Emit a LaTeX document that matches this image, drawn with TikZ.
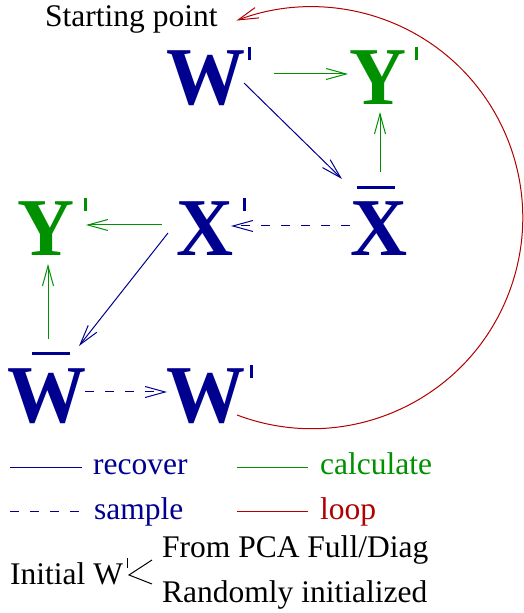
\documentclass[tikz,border=0pt]{standalone}
\usepackage{fontspec}
\setmainfont{Liberation Serif}
\usetikzlibrary{arrows.meta}
\definecolor{fblue}{HTML}{000090}
\definecolor{fgreen}{HTML}{009000}
\definecolor{fred}{HTML}{B00000}
\newcommand\prm[1]{\smash{\rlap{\hspace{#1}\raisebox{45pt}{\rule{3pt}{12.5pt}}}}}
\newcommand\tall[1]{\scalebox{1}[1.04]{#1}}
\begin{document}
\begin{tikzpicture}[x=1pt,y=1pt,
 big/.style={inner sep=0pt, anchor=base, font=\fontsize{79}{80}\selectfont\bfseries},
 lbl/.style={inner sep=0pt, anchor=base west, font=\fontsize{31.5}{33}\selectfont},
 conn/.style={line width=1pt, -{Straight Barb[length=20pt,width=11pt]}},
 calcline/.style={conn, fgreen},
 recovline/.style={conn, fblue},
 sampline/.style={conn, fblue, dash pattern=on 9pt off 11pt},
 loopline/.style={conn, fred},
 legline/.style={line width=1pt},
 barline/.style={line width=3pt, fblue}]
\useasboundingbox (0,0) rectangle (523,613);

% main symbols
\node[big, fblue]  (w1) at (206,508)   {\tall{W}\prm{2.5pt}};
\node[big, fgreen] (y1) at (378.5,508) {\tall{Y}\prm{8pt}};
\node[big, fblue]  (xb) at (379,357)   {\tall{X}};
\node[big, fblue]  (x2) at (205,357)   {\tall{X}\prm{9pt}};
\node[big, fgreen] (y2) at (46,357)    {\tall{Y}\prm{9.5pt}};
\node[big, fblue]  (wb) at (47,190)    {\tall{W}};
\node[big, fblue]  (w3) at (205.5,190) {\tall{W}\prm{5pt}};

% bars
\draw[barline] ([shift={(-22,68)}]xb.base) -- ([shift={(16,68)}]xb.base);
\draw[barline] ([shift={(-15,69)}]wb.base) -- ([shift={(23,69)}]wb.base);

\node[lbl] (start) at (45,586) {Starting point};

% connectors
\draw[calcline]  ([shift={(68,31)}]w1.base)   -- ([shift={(-30.5,31)}]y1.base);
\draw[recovline] ([shift={(38,22)}]w1.base)   -- ([shift={(-37,77)}]xb.base);
\draw[calcline]  ([shift={(1,84)}]xb.base)    -- ([shift={(1.5,-7)}]y1.base);
\draw[sampline]  ([shift={(-29,30)}]xb.base)  -- ([shift={(26,30)}]x2.base);
\draw[calcline]  ([shift={(-43,31)}]x2.base)  -- ([shift={(40,31)}]y2.base);
\draw[recovline] ([shift={(-37,23)}]x2.base)  -- ([shift={(32,77)}]wb.base);
\draw[calcline]  ([shift={(1,84)}]wb.base)    -- ([shift={(2,-8)}]y2.base);
\draw[sampline]  ([shift={(38,31)}]wb.base)   -- ([shift={(-38.5,31)}]w3.base);
\draw[loopline]  ([shift={(31.5,8)}]w3.base) arc[start angle=-110.75, end angle=110.9, radius=211];

% legend
\node[lbl, fblue]  (lrec)  at (93,138)  {recover};
\node[lbl, fgreen] (lcalc) at (320,138) {calculate};
\node[lbl, fblue]  (lsamp) at (94,93)   {sample};
\node[lbl, fred]   (lloop) at (320,93)  {loop};
\draw[legline, fblue]  ([shift={(-83,7)}]lrec.base west) -- ([shift={(-11,7)}]lrec.base west);
\draw[legline, fgreen] ([shift={(-83,7)}]lcalc.base west) -- ([shift={(-12,7)}]lcalc.base west);
\draw[legline, fblue, dash pattern=on 9pt off 11pt] ([shift={(-84,8)}]lsamp.base west) -- ([shift={(-14,8)}]lsamp.base west);
\draw[legline, fred]   ([shift={(-83,8)}]lloop.base west) -- ([shift={(-12,8)}]lloop.base west);

% initial W'
\node[lbl] (init) at (10,28) {Initial W\smash{\rlap{\hspace{4pt}\raisebox{17pt}{\rule{1.2pt}{10pt}}}}};
\node[lbl] (pca) at (162,55) {From PCA Full/Diag};
\node[lbl] (rnd) at (162,10) {Randomly initialized};
\coordinate (vtx) at (129,38);
\draw[line width=1pt] ([shift={(-10,-2)}]pca.base west) -- (vtx) -- ([shift={(-10,19)}]rnd.base west);
\end{tikzpicture}
\end{document}
